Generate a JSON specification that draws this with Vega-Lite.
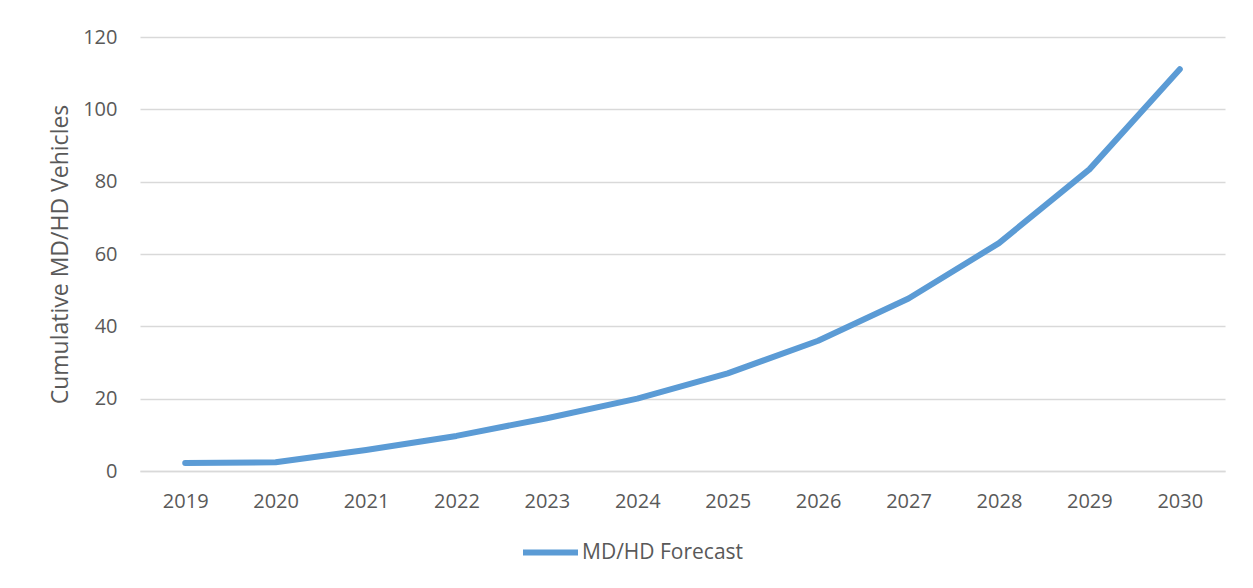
{
  "$schema": "https://vega.github.io/schema/vega-lite/v6.json",
  "autosize": {"type": "none"},
  "width": 1085,
  "height": 434,
  "padding": {"left": 140, "top": 37, "right": 28, "bottom": 117},
  "background": "white",
  "data": {
    "values": [
      {"year": "2019", "value": 2.2, "series": "MD/HD Forecast"},
      {"year": "2020", "value": 2.4, "series": "MD/HD Forecast"},
      {"year": "2021", "value": 5.8, "series": "MD/HD Forecast"},
      {"year": "2022", "value": 9.7, "series": "MD/HD Forecast"},
      {"year": "2023", "value": 14.6, "series": "MD/HD Forecast"},
      {"year": "2024", "value": 20.0, "series": "MD/HD Forecast"},
      {"year": "2025", "value": 27.0, "series": "MD/HD Forecast"},
      {"year": "2026", "value": 36.0, "series": "MD/HD Forecast"},
      {"year": "2027", "value": 47.7, "series": "MD/HD Forecast"},
      {"year": "2028", "value": 63.0, "series": "MD/HD Forecast"},
      {"year": "2029", "value": 83.4, "series": "MD/HD Forecast"},
      {"year": "2030", "value": 111.1, "series": "MD/HD Forecast"}
    ]
  },
  "mark": {"type": "line", "strokeWidth": 6, "strokeCap": "round", "strokeJoin": "round"},
  "encoding": {
    "x": {
      "field": "year",
      "type": "ordinal",
      "scale": {"type": "point", "padding": 0.5},
      "axis": {
        "title": null,
        "labelAngle": 0,
        "ticks": false,
        "domain": true,
        "domainColor": "#D9D9D9",
        "domainWidth": 1.5,
        "grid": false,
        "labelPadding": 20,
        "labelFont": "Open Sans",
        "labelFontSize": 20,
        "labelColor": "#595959"
      }
    },
    "y": {
      "field": "value",
      "type": "quantitative",
      "scale": {"domain": [0, 120], "nice": false},
      "axis": {
        "values": [0, 20, 40, 60, 80, 100, 120],
        "title": "Cumulative MD/HD Vehicles",
        "titleFont": "Open Sans",
        "titleFontSize": 23,
        "titleFontWeight": "normal",
        "titleColor": "#595959",
        "titleX": -80,
        "titleY": 217,
        "titleAlign": "center",
        "titleBaseline": "middle",
        "titleAngle": -90,
        "domain": false,
        "ticks": false,
        "grid": true,
        "gridColor": "#D9D9D9",
        "gridWidth": 1.5,
        "labelPadding": 23,
        "labelFont": "Open Sans",
        "labelFontSize": 20,
        "labelColor": "#595959"
      }
    },
    "color": {
      "field": "series",
      "type": "nominal",
      "scale": {"range": ["#5B9BD5"]},
      "legend": {
        "title": null,
        "orient": "none",
        "legendX": 380,
        "legendY": 485,
        "symbolType": "stroke",
        "symbolSize": 3025,
        "symbolStrokeWidth": 6,
        "labelFont": "Open Sans",
        "labelFontSize": 21,
        "labelColor": "#595959",
        "labelOffset": 1,
        "labelLimit": 500
      }
    }
  },
  "config": {"view": {"stroke": null}}
}
